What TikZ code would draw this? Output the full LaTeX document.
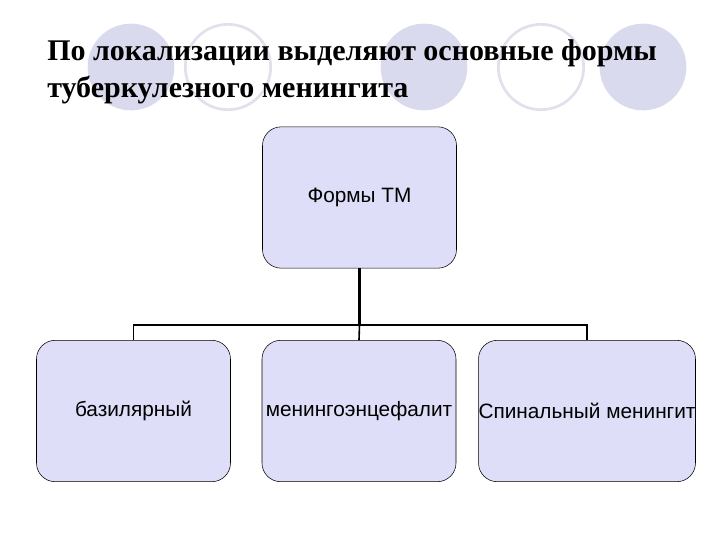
\documentclass[tikz,border=0pt]{standalone}
\usepackage{fontspec}
\setmainfont{Liberation Serif}
\newfontfamily\arial{Liberation Sans}
\begin{document}
\begin{tikzpicture}[x=0.75pt,y=-0.75pt,
  box/.style={draw=black,fill=boxc,rounded corners=14pt,minimum width=145.5pt,minimum height=106pt,font=\arial\fontsize{15.6}{18}\selectfont,inner sep=0pt},
  conn/.style={draw=black,line width=1.2pt},
  ttl/.style={anchor=base west,font=\bfseries\fontsize{22.5}{27}\selectfont,inner sep=0pt}]
\definecolor{boxc}{RGB}{222,222,248}
\definecolor{circc}{RGB}{218,218,238}
\definecolor{circo}{RGB}{225,225,238}
\useasboundingbox (0,0) rectangle (720,540);
\fill[white] (0,0) rectangle (720,540);
\foreach \cx in {131,424,643} \fill[circc] (\cx,67) circle[radius=32.5pt];
\foreach \cx in {228,541} \draw[circo,line width=2pt] (\cx,67) circle[radius=32pt];
\node[ttl] (t1) at (47,60) {По локализации выделяют основные формы};
\node[ttl] (t2) at (47,97) {туберкулезного менингита};
\node[box] (top) at (359.5,197.5) {Формы ТМ};
\node[box] (b1) at (133.5,411) {базилярный};
\node[box] (b2) at (359,411) {менингоэнцефалит};
\node[box] (b3) at (587,411) {Спинальный менингит};
\coordinate (j) at (359.5,325);
\draw[conn,line width=2pt] (top.south) -- (j);
\draw[conn] (b1.north) |- (j) -| (b3.north);
\draw[conn] (j) -- (b2.north);
\end{tikzpicture}
\end{document}
